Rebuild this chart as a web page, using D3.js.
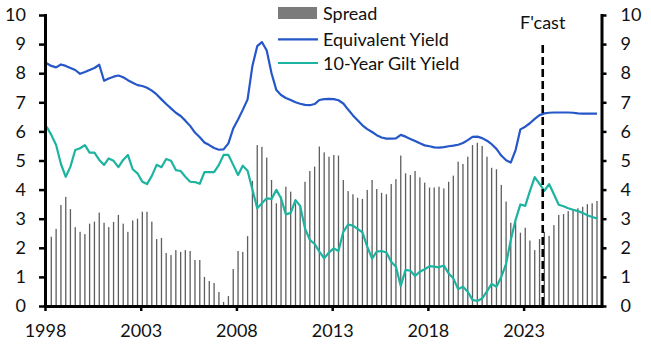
<!DOCTYPE html>
<html>
<head>
<meta charset="utf-8">
<script src="https://cdn.jsdelivr.net/npm/d3@7"></script>
<style>
  body { margin: 0; background: #fff; }
  svg { display: block; font-family: Lato, "Open Sans", sans-serif; }
</style>
</head>
<body>
<svg id="chart" width="651" height="354"></svg>
<script>
// ── Data (quarterly, 1998Q1 – 2026Q4) ─────────────────────────────────────────
const quarters = d3.range(116).map((i) => `${1998 + Math.floor(i / 4)}Q${(i % 4) + 1}`);

const spread = [
  null, 2.38, 2.65, 3.47, 3.75, 3.33, 2.71, 2.55, 2.47, 2.83, 2.9, 3.21,
  2.86, 2.71, 2.89, 3.13, 2.83, 2.55, 2.94, 3.0, 3.24, 3.24, 2.9, 2.3,
  2.34, 1.82, 1.75, 1.92, 1.86, 1.92, 1.89, 1.58, 1.58, 1.0, 0.86, 0.79,
  0.48, 0.14, 0.34, 1.27, 1.89, 1.86, 2.4, 4.3, 5.53, 5.47, 5.1, 4.33,
  3.53, 3.76, 4.1, 3.93, 3.53, 3.41, 4.27, 4.64, 4.79, 5.48, 5.28, 5.13,
  5.19, 5.17, 4.33, 3.95, 3.84, 3.72, 3.68, 3.99, 4.33, 4.02, 3.89, 3.84,
  4.19, 4.36, 5.17, 4.56, 4.5, 4.64, 4.42, 4.24, 4.07, 4.07, 4.1, 4.04,
  4.27, 4.48, 4.96, 4.88, 5.13, 5.53, 5.61, 5.5, 5.13, 4.75, 4.7, 4.16,
  3.59, 2.86, 2.9, 2.52, 2.69, 2.25, 1.92, 2.3, 2.55, 2.41, 2.78, 3.13,
  3.16, 3.26, 3.32, 3.36, 3.41, 3.5, 3.53, 3.61,
];

const equivYield = [
  8.34, 8.25, 8.2, 8.3, 8.25, 8.18, 8.11, 7.98, 8.04, 8.11, 8.18, 8.29,
  7.74, 7.82, 7.88, 7.92, 7.86, 7.76, 7.67, 7.59, 7.56, 7.5, 7.4, 7.27,
  7.1, 6.94, 6.79, 6.64, 6.53, 6.37, 6.19, 5.96, 5.8, 5.62, 5.53, 5.43,
  5.37, 5.38, 5.59, 6.1, 6.41, 6.74, 7.1, 8.25, 8.93, 9.07, 8.78, 8.0,
  7.42, 7.25, 7.15, 7.08, 7.0, 6.95, 6.91, 6.9, 6.94, 7.08, 7.11, 7.12,
  7.11, 7.07, 6.96, 6.75, 6.55, 6.38, 6.21, 6.08, 5.98, 5.87, 5.79, 5.75,
  5.75, 5.76, 5.88, 5.82, 5.74, 5.67, 5.59, 5.52, 5.49, 5.45, 5.44, 5.46,
  5.49, 5.51, 5.54, 5.6, 5.7, 5.81, 5.82, 5.77, 5.68, 5.56, 5.4, 5.17,
  5.01, 4.93, 5.36, 6.07, 6.16, 6.28, 6.43, 6.56, 6.62, 6.64, 6.65, 6.65,
  6.65, 6.65, 6.64, 6.62, 6.61, 6.61, 6.61, 6.61,
];

const giltYield = [
  6.16, 5.88, 5.53, 4.88, 4.44, 4.79, 5.36, 5.42, 5.53, 5.27, 5.27, 5.02,
  4.85, 5.07, 4.99, 4.77, 5.02, 5.19, 4.7, 4.56, 4.27, 4.19, 4.47, 4.85,
  4.77, 5.05, 4.99, 4.67, 4.64, 4.44, 4.27, 4.26, 4.2, 4.6, 4.6, 4.6,
  4.85, 5.19, 5.19, 4.85, 4.5, 4.82, 4.65, 4.0, 3.36, 3.53, 3.7, 3.68,
  3.99, 3.7, 3.15, 3.2, 3.64, 3.44, 2.67, 2.27, 2.13, 1.87, 1.64, 1.84,
  1.98, 1.89, 2.55, 2.8, 2.76, 2.65, 2.53, 2.04, 1.63, 1.87, 1.89, 1.84,
  1.52, 1.35, 0.69, 1.24, 1.21, 1.03, 1.18, 1.26, 1.37, 1.35, 1.33, 1.39,
  1.12, 0.95, 0.58, 0.66, 0.49, 0.21, 0.17, 0.26, 0.5, 0.76, 0.66, 1.0,
  1.45, 2.27, 2.96, 3.49, 3.44, 3.95, 4.43, 4.2, 3.96, 4.19, 3.84, 3.48,
  3.43, 3.36, 3.31, 3.26, 3.2, 3.12, 3.06, 3.01,
];

const yTicks = [0, 1, 2, 3, 4, 5, 6, 7, 8, 9, 10];
const xTickYears = [1998, 2003, 2008, 2013, 2018, 2023];
const forecastYear = 2024;
const legendLabels = ["Spread", "Equivalent Yield", "10-Year Gilt Yield"];

// ── Setup ─────────────────────────────────────────────────────────────────────
const BLUE = "#2557c9";
const TEAL = "#1db3a1";
const GREY = "#5e5e5e";
const FONT_SIZE = "18px";

const svg = d3.select("#chart");
const plotLeft = 45, plotRight = 601.5, plotTop = 15, plotBottom = 306;

// quarters are plotted at the start of their middle month
const qDate = (q) => new Date(Date.UTC(+q.slice(0, 4), (+q.slice(5) - 1) * 3 + 1, 1));

const x = d3.scaleUtc()
  .domain([new Date(Date.UTC(1998, 0, 1)), new Date(Date.UTC(2027, 0, 26))])
  .range([plotLeft, plotRight]);
const y = d3.scaleLinear().domain([0, 10]).range([plotBottom, plotTop]);

const rows = quarters.map((q, i) => ({
  date: qDate(q),
  spread: spread[i],
  equiv: equivYield[i],
  gilt: giltYield[i],
}));

// ── Bars (spread) ─────────────────────────────────────────────────────────────
svg.append("g")
  .selectAll("rect")
  .data(rows.filter((d) => d.spread != null))
  .join("rect")
  .attr("x", (d) => x(d.date) - 0.65)
  .attr("width", 1.3)
  .attr("y", (d) => y(d.spread))
  .attr("height", (d) => y(0) - y(d.spread))
  .attr("fill", GREY);

// ── Lines ─────────────────────────────────────────────────────────────────────
const lineOf = (key) => d3.line().x((d) => x(d.date)).y((d) => y(d[key]));

svg.append("path")
  .datum(rows)
  .attr("d", lineOf("equiv"))
  .attr("fill", "none")
  .attr("stroke", BLUE)
  .attr("stroke-width", 2.2)
  .attr("stroke-linejoin", "round");

svg.append("path")
  .datum(rows)
  .attr("d", lineOf("gilt"))
  .attr("fill", "none")
  .attr("stroke", TEAL)
  .attr("stroke-width", 2.2)
  .attr("stroke-linejoin", "round");

// ── Forecast marker ───────────────────────────────────────────────────────────
const fx = x(new Date(Date.UTC(forecastYear, 0, 1)));
svg.append("line")
  .attr("x1", fx).attr("x2", fx)
  .attr("y1", 45).attr("y2", plotBottom)
  .attr("stroke", "#000")
  .attr("stroke-width", 2.6)
  .attr("stroke-dasharray", "8,4");

svg.append("text")
  .attr("x", fx)
  .attr("y", 29)
  .attr("text-anchor", "middle")
  .attr("font-size", FONT_SIZE)
  .attr("fill", "#111")
  .text("F'cast");

// ── Axes ──────────────────────────────────────────────────────────────────────
function styleAxis(g) {
  g.select(".domain").attr("stroke-width", 3).attr("stroke-linecap", "square");
  g.selectAll(".tick line").attr("stroke-width", 2.5);
  g.selectAll(".tick text").attr("font-size", FONT_SIZE).attr("fill", "#111");
  g.attr("font-family", null);
}

svg.append("g")
  .attr("transform", `translate(${plotLeft},0)`)
  .call(d3.axisLeft(y).tickValues(yTicks).tickSize(6).tickSizeOuter(0).tickPadding(13))
  .call(styleAxis);

svg.append("g")
  .attr("transform", `translate(${plotRight},0)`)
  .call(d3.axisRight(y).tickValues(yTicks).tickSize(5).tickSizeOuter(0).tickPadding(14))
  .call(styleAxis);

svg.append("g")
  .attr("transform", `translate(0,${plotBottom})`)
  .call(
    d3.axisBottom(x)
      .tickValues(xTickYears.map((yr) => new Date(Date.UTC(yr, 0, 1))))
      .tickFormat(d3.utcFormat("%Y"))
      .tickSize(5).tickSizeOuter(0).tickPadding(13),
  )
  .call(styleAxis);

// ── Legend ────────────────────────────────────────────────────────────────────
const legend = svg.append("g").attr("font-size", FONT_SIZE).attr("fill", "#111");
const legendY = [13, 39.3, 63];

legend.append("rect")
  .attr("x", 278).attr("y", legendY[0] - 6)
  .attr("width", 39).attr("height", 12)
  .attr("fill", "#7b7b7b");
legend.append("line")
  .attr("x1", 278).attr("x2", 318)
  .attr("y1", legendY[1]).attr("y2", legendY[1])
  .attr("stroke", BLUE).attr("stroke-width", 2.2);
legend.append("line")
  .attr("x1", 278).attr("x2", 318)
  .attr("y1", legendY[2]).attr("y2", legendY[2])
  .attr("stroke", TEAL).attr("stroke-width", 2.2);

legend.selectAll("text")
  .data(legendLabels)
  .join("text")
  .attr("x", 323)
  .attr("y", (d, i) => legendY[i] + 6.5)
  .text((d) => d);
</script>
</body>
</html>
